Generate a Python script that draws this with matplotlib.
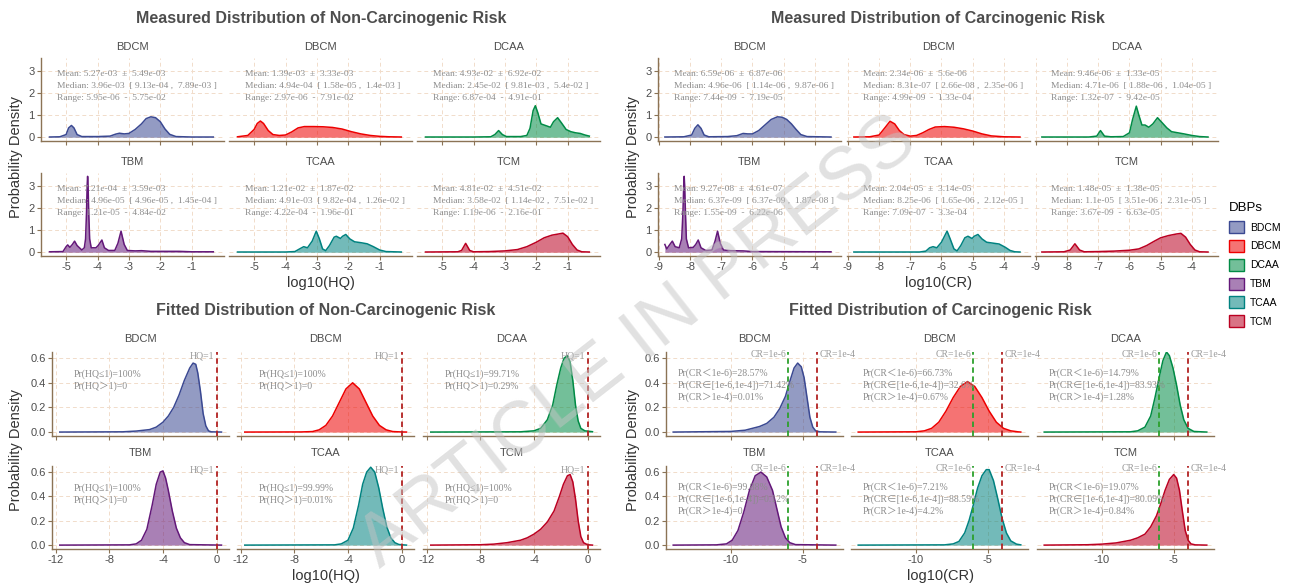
import matplotlib.pyplot as plt
from matplotlib.colors import to_rgba
from matplotlib.patches import Patch

plt.rcParams['font.family'] = ['Liberation Sans', 'DejaVu Sans']

W, H = 1296, 586
DBPS = ["BDCM", "DBCM", "DCAA", "TBM", "TCAA", "TCM"]
COLORS = ["#3B4992", "#EE0000", "#008B45", "#631879", "#008280", "#BB0021"]

AXIS_C = '#8B7355'
GRID_C = '#F1DCCA'
TEXT_C = '#4D4D4D'
NOTE_C = '#8C8C8C'
SERIF = ['Liberation Serif', 'Noto Sans CJK SC', 'DejaVu Serif']

# ---- measured densities, log10(HQ) ----
meas_hq_x = {
    "BDCM": [-5.53, -5.2, -5.0, -4.92, -4.83, -4.75, -4.65, -4.5, -4.0, -3.6, -3.42, -3.3, -3.15, -3.0,
             -2.8, -2.6, -2.45, -2.3, -2.15, -2.0, -1.85, -1.7, -1.5, -1.0, -0.31],
    "DBCM": [-5.53, -5.2, -5.0, -4.9, -4.8, -4.7, -4.55, -4.4, -4.2, -4.0, -3.8, -3.6, -3.4, -3.1,
             -2.8, -2.5, -2.2, -1.9, -1.6, -1.3, -1.0, -0.7, -0.31],
    "DCAA": [-5.53, -4.0, -3.45, -3.32, -3.2, -3.08, -2.95, -2.5, -2.3, -2.2, -2.1, -2.03, -1.95, -1.85,
             -1.75, -1.65, -1.55, -1.45, -1.32, -1.2, -1.05, -0.9, -0.75, -0.6, -0.45, -0.31],
    "TBM": [-5.53, -5.1, -5.0, -4.95, -4.88, -4.8, -4.73, -4.65, -4.5, -4.42, -4.38, -4.35, -4.33, -4.315,
            -4.3, -4.28, -4.25, -4.2, -4.05, -3.98, -3.86, -3.78, -3.65, -3.45, -3.35, -3.25, -3.15, -3.05,
            -2.8, -2.6, -2.3, -1.4, -1.0, -0.31],
    "TCAA": [-5.53, -4.0, -3.7, -3.55, -3.42, -3.3, -3.15, -3.02, -2.92, -2.82, -2.72, -2.6, -2.45, -2.38,
             -2.25, -2.18, -2.08, -1.95, -1.8, -1.6, -1.4, -1.2, -1.0, -0.8, -0.31],
    "TCM": [-5.53, -4.5, -4.38, -4.25, -4.12, -4.0, -3.5, -3.0, -2.6, -2.3, -2.0, -1.75, -1.5, -1.3,
            -1.15, -1.0, -0.85, -0.7, -0.55, -0.31],
}
meas_hq_y = {
    "BDCM": [0.01, 0.02, 0.12, 0.42, 0.53, 0.42, 0.12, 0.03, 0.03, 0.05, 0.14, 0.18, 0.15, 0.17,
             0.35, 0.6, 0.84, 0.92, 0.88, 0.7, 0.37, 0.13, 0.03, 0.01, 0.01],
    "DBCM": [0.02, 0.08, 0.35, 0.62, 0.73, 0.62, 0.3, 0.12, 0.08, 0.1, 0.24, 0.42, 0.48, 0.48,
             0.47, 0.44, 0.37, 0.25, 0.15, 0.08, 0.04, 0.02, 0.01],
    "DCAA": [0.01, 0.01, 0.02, 0.12, 0.3, 0.12, 0.03, 0.03, 0.08, 0.4, 1.2, 1.42, 1.1, 0.6,
             0.55, 0.5, 0.45, 0.7, 0.88, 0.65, 0.35, 0.25, 0.2, 0.17, 0.1, 0.05],
    "TBM": [0.02, 0.03, 0.25, 0.33, 0.22, 0.35, 0.5, 0.3, 0.1, 0.2, 0.6, 1.8, 3.0, 3.42,
            3.0, 1.8, 0.6, 0.2, 0.2, 0.3, 0.55, 0.2, 0.08, 0.08, 0.4, 0.95, 0.35, 0.08,
            0.06, 0.07, 0.04, 0.04, 0.02, 0.02],
    "TCAA": [0.01, 0.01, 0.03, 0.15, 0.25, 0.2, 0.5, 0.95, 0.6, 0.15, 0.07, 0.3, 0.68, 0.72,
             0.62, 0.72, 0.8, 0.6, 0.47, 0.43, 0.38, 0.25, 0.1, 0.03, 0.01],
    "TCM": [0.01, 0.02, 0.08, 0.4, 0.08, 0.02, 0.03, 0.06, 0.12, 0.25, 0.45, 0.65, 0.77, 0.82,
            0.86, 0.7, 0.35, 0.1, 0.02, 0.01],
}

# ---- measured densities, log10(CR) ----
meas_cr_x = {
    "BDCM": [-8.81, -8.2, -7.95, -7.85, -7.75, -7.65, -7.55, -7.4, -6.8, -6.5, -6.3, -6.15, -6.0, -5.8,
             -5.6, -5.4, -5.2, -5.05, -4.9, -4.75, -4.6, -4.45, -4.25, -3.48],
    "DBCM": [-8.81, -8.3, -8.0, -7.8, -7.65, -7.5, -7.35, -7.2, -7.0, -6.8, -6.6, -6.4, -6.2, -5.9,
             -5.6, -5.3, -5.0, -4.7, -4.4, -4.0, -3.48],
    "DCAA": [-8.81, -7.3, -7.05, -6.93, -6.8, -6.6, -6.2, -6.0, -5.9, -5.78, -5.7, -5.6, -5.5, -5.38,
             -5.25, -5.1, -4.95, -4.8, -4.65, -4.45, -4.25, -4.0, -3.75, -3.48],
    "TBM": [-8.81, -8.75, -8.65, -8.57, -8.48, -8.35, -8.27, -8.23, -8.205, -8.19, -8.175, -8.15, -8.12,
            -8.05, -7.9, -7.82, -7.74, -7.65, -7.5, -7.3, -7.2, -7.12, -7.03, -6.93, -6.7, -6.3, -6.0, -3.48],
    "TCAA": [-8.81, -6.7, -6.5, -6.38, -6.27, -6.15, -6.0, -5.82, -5.72, -5.6, -5.5, -5.38, -5.25, -5.15,
             -5.02, -4.95, -4.83, -4.7, -4.55, -4.35, -4.15, -3.95, -3.8, -3.65, -3.48],
    "TCM": [-8.81, -8.1, -7.9, -7.75, -7.6, -7.45, -7.0, -6.5, -6.0, -5.7, -5.45, -5.2, -5.0, -4.75,
            -4.5, -4.35, -4.2, -4.05, -3.9, -3.75, -3.48],
}
meas_cr_y = {
    "BDCM": [0.01, 0.02, 0.1, 0.4, 0.56, 0.4, 0.1, 0.02, 0.03, 0.07, 0.17, 0.15, 0.15, 0.3,
             0.55, 0.8, 0.92, 0.9, 0.8, 0.6, 0.35, 0.12, 0.03, 0.01],
    "DBCM": [0.01, 0.02, 0.1, 0.45, 0.72, 0.6, 0.3, 0.12, 0.05, 0.08, 0.2, 0.35, 0.46, 0.48,
             0.45, 0.38, 0.28, 0.15, 0.06, 0.02, 0.01],
    "DCAA": [0.01, 0.01, 0.05, 0.3, 0.05, 0.02, 0.03, 0.2, 0.8, 1.4, 1.0, 0.55, 0.55, 0.45,
             0.6, 0.88, 0.65, 0.42, 0.25, 0.2, 0.15, 0.08, 0.03, 0.01],
    "TBM": [0.35, 0.15, 0.35, 0.5, 0.25, 0.2, 0.6, 1.8, 3.0, 3.42, 3.0, 1.8, 0.6,
            0.2, 0.22, 0.35, 0.55, 0.2, 0.08, 0.1, 0.5, 0.95, 0.4, 0.1, 0.07, 0.06, 0.03, 0.02],
    "TCAA": [0.01, 0.01, 0.05, 0.2, 0.25, 0.2, 0.45, 0.95, 0.6, 0.15, 0.06, 0.3, 0.65, 0.72,
             0.62, 0.72, 0.8, 0.6, 0.45, 0.41, 0.37, 0.22, 0.08, 0.02, 0.01],
    "TCM": [0.01, 0.02, 0.1, 0.38, 0.1, 0.02, 0.03, 0.05, 0.09, 0.15, 0.3, 0.5, 0.65, 0.75,
            0.82, 0.85, 0.68, 0.35, 0.1, 0.02, 0.01],
}

# ---- fitted densities, log10(HQ) ----
fit_hq_x = {
    "BDCM": [-11.7, -7.0, -6.0, -5.0, -4.5, -4.0, -3.6, -3.2, -2.8, -2.4, -2.0, -1.75, -1.55, -1.4,
             -1.2, -1.0, -0.8, -0.6, -0.4, 0.37],
    "DBCM": [-11.7, -7.5, -6.65, -6.15, -5.65, -5.15, -4.65, -4.15, -3.65, -3.15, -2.65, -2.15, -1.65,
             -1.15, -0.65, 0.0, 0.37],
    "DCAA": [-11.7, -5.0, -4.0, -3.5, -3.0, -2.6, -2.3, -2.0, -1.75, -1.5, -1.3, -1.1, -0.9, -0.7,
             -0.5, -0.2, 0.37],
    "TBM": [-11.7, -6.5, -6.0, -5.6, -5.2, -4.8, -4.5, -4.2, -4.0, -3.8, -3.6, -3.3, -3.0, -2.7,
            -2.4, -2.0, 0.37],
    "TCAA": [-11.7, -5.0, -4.5, -4.0, -3.6, -3.2, -2.9, -2.6, -2.3, -2.0, -1.7, -1.4, -1.1, -0.8,
             -0.5, -0.2, 0.37],
    "TCM": [-11.7, -8.0, -7.0, -6.0, -5.0, -4.5, -4.0, -3.5, -3.0, -2.5, -2.1, -1.8, -1.5, -1.3,
            -1.1, -0.9, -0.7, -0.5, -0.3, 0.0, 0.37],
}
fit_hq_y = {
    "BDCM": [0.0, 0.002, 0.008, 0.02, 0.04, 0.08, 0.13, 0.2, 0.3, 0.42, 0.52, 0.56, 0.55, 0.48,
             0.33, 0.15, 0.05, 0.01, 0.002, 0.0],
    "DBCM": [0.0, 0.001, 0.004, 0.018, 0.054, 0.13, 0.24, 0.35, 0.4, 0.35, 0.24, 0.13, 0.054,
             0.018, 0.004, 0.001, 0.0],
    "DCAA": [0.0, 0.002, 0.01, 0.03, 0.1, 0.22, 0.38, 0.52, 0.6, 0.62, 0.57, 0.42, 0.22, 0.09,
             0.03, 0.01, 0.003],
    "TBM": [0.0, 0.002, 0.01, 0.04, 0.13, 0.33, 0.5, 0.6, 0.61, 0.55, 0.45, 0.28, 0.14, 0.06,
            0.02, 0.004, 0.0],
    "TCAA": [0.0, 0.002, 0.01, 0.04, 0.14, 0.33, 0.5, 0.6, 0.64, 0.6, 0.47, 0.3, 0.15, 0.06,
             0.02, 0.005, 0.0],
    "TCM": [0.0, 0.003, 0.008, 0.02, 0.04, 0.06, 0.09, 0.13, 0.19, 0.28, 0.4, 0.5, 0.57, 0.58,
            0.52, 0.38, 0.2, 0.07, 0.02, 0.003, 0.0],
}

# ---- fitted densities, log10(CR) ----
fit_cr_x = {
    "BDCM": [-14.0, -10.0, -9.0, -8.5, -8.0, -7.5, -7.0, -6.6, -6.2, -5.9, -5.6, -5.35, -5.1, -4.9,
             -4.7, -4.5, -4.3, -4.1, -3.8, -2.7],
    "DBCM": [-14.0, -10.0, -9.4, -8.9, -8.4, -7.9, -7.4, -6.9, -6.4, -5.9, -5.4, -4.9, -4.4, -3.9,
             -3.4, -2.9, -2.7],
    "DCAA": [-14.0, -8.0, -7.5, -7.0, -6.6, -6.3, -6.0, -5.75, -5.5, -5.3, -5.05, -4.8, -4.55, -4.3,
             -4.0, -3.6, -2.7],
    "TBM": [-14.0, -11.0, -10.3, -9.9, -9.5, -9.1, -8.7, -8.3, -7.9, -7.5, -7.1, -6.8, -6.5, -6.2,
            -5.9, -5.5, -2.7],
    "TCAA": [-14.0, -8.0, -7.4, -7.0, -6.6, -6.3, -6.0, -5.7, -5.4, -5.1, -4.9, -4.6, -4.3, -4.0,
             -3.7, -3.4, -3.0, -2.7],
    "TCM": [-14.0, -11.0, -10.0, -9.0, -8.0, -7.5, -7.0, -6.6, -6.2, -5.9, -5.6, -5.3, -5.0, -4.8,
            -4.6, -4.4, -4.2, -4.0, -3.8, -3.5, -2.7],
}
fit_cr_y = {
    "BDCM": [0.0, 0.005, 0.015, 0.03, 0.045, 0.07, 0.12, 0.19, 0.29, 0.41, 0.52, 0.56, 0.53, 0.44,
             0.28, 0.12, 0.04, 0.01, 0.002, 0.0],
    "DBCM": [0.0, 0.002, 0.01, 0.03, 0.08, 0.17, 0.28, 0.37, 0.41, 0.37, 0.28, 0.17, 0.08, 0.03,
             0.01, 0.002, 0.0],
    "DCAA": [0.0, 0.002, 0.01, 0.04, 0.13, 0.28, 0.45, 0.58, 0.65, 0.62, 0.52, 0.38, 0.22, 0.1,
             0.03, 0.005, 0.0],
    "TBM": [0.0, 0.002, 0.01, 0.04, 0.12, 0.27, 0.45, 0.57, 0.6, 0.56, 0.45, 0.3, 0.15, 0.06,
            0.02, 0.004, 0.0],
    "TCAA": [0.0, 0.002, 0.01, 0.03, 0.1, 0.2, 0.33, 0.47, 0.57, 0.62, 0.62, 0.53, 0.38, 0.22,
             0.1, 0.035, 0.008, 0.002],
    "TCM": [0.0, 0.003, 0.008, 0.018, 0.04, 0.06, 0.09, 0.15, 0.24, 0.34, 0.45, 0.54, 0.58, 0.55,
            0.45, 0.28, 0.12, 0.04, 0.01, 0.002, 0.0],
}

# ---- summary statistics: mean, sd, median, q1, q3, min, max ----
hq_stats = {
    "BDCM": ["5.27e-03", "5.49e-03", "3.96e-03", "9.13e-04", "7.89e-03", "5.95e-06", "5.75e-02"],
    "DBCM": ["1.39e-03", "3.33e-03", "4.94e-04", "1.58e-05", "1.4e-03", "2.97e-06", "7.91e-02"],
    "DCAA": ["4.93e-02", "6.92e-02", "2.45e-02", "9.81e-03", "5.4e-02", "6.87e-04", "4.91e-01"],
    "TBM": ["7.21e-04", "3.59e-03", "4.96e-05", "4.96e-05", "1.45e-04", "1.21e-05", "4.84e-02"],
    "TCAA": ["1.21e-02", "1.87e-02", "4.91e-03", "9.82e-04", "1.26e-02", "4.22e-04", "1.96e-01"],
    "TCM": ["4.81e-02", "4.51e-02", "3.58e-02", "1.14e-02", "7.51e-02", "1.19e-06", "2.16e-01"],
}
cr_stats = {
    "BDCM": ["6.59e-06", "6.87e-06", "4.96e-06", "1.14e-06", "9.87e-06", "7.44e-09", "7.19e-05"],
    "DBCM": ["2.34e-06", "5.6e-06", "8.31e-07", "2.66e-08", "2.35e-06", "4.99e-09", "1.33e-04"],
    "DCAA": ["9.46e-06", "1.33e-05", "4.71e-06", "1.88e-06", "1.04e-05", "1.32e-07", "9.42e-05"],
    "TBM": ["9.27e-08", "4.61e-07", "6.37e-09", "6.37e-09", "1.87e-08", "1.55e-09", "6.22e-06"],
    "TCAA": ["2.04e-05", "3.14e-05", "8.25e-06", "1.65e-06", "2.12e-05", "7.09e-07", "3.3e-04"],
    "TCM": ["1.48e-05", "1.38e-05", "1.1e-05", "3.51e-06", "2.31e-05", "3.67e-09", "6.63e-05"],
}
# exceedance probabilities of the fitted distributions
hq_prob = {
    "BDCM": ["100%", "0"], "DBCM": ["100%", "0"], "DCAA": ["99.71%", "0.29%"],
    "TBM": ["100%", "0"], "TCAA": ["99.99%", "0.01%"], "TCM": ["100%", "0"],
}
cr_prob = {
    "BDCM": ["28.57%", "71.42%", "0.01%"], "DBCM": ["66.73%", "32.6%", "0.67%"],
    "DCAA": ["14.79%", "83.93%", "1.28%"], "TBM": ["99.88%", "0.12%", "0"],
    "TCAA": ["7.21%", "88.59%", "4.2%"], "TCM": ["19.07%", "80.09%", "0.84%"],
}

fig = plt.figure(figsize=(W / 100, H / 100), dpi=100)


def px_rect(x0, y0, x1, y1):
    return [x0 / W, 1 - y1 / H, (x1 - x0) / W, (y1 - y0) / H]


def ftext(x, y, s, **kw):
    fig.text(x / W, 1 - y / H, s, **kw)


def style_axes(ax, xlim, ylim, xticks, yticks, ylabels, first_col, last_row):
    ax.set_xlim(*xlim)
    ax.set_ylim(*ylim)
    ax.set_facecolor('none')
    for t in xticks:
        ax.axvline(t, color=GRID_C, lw=0.7, ls=(0, (4, 3)), zorder=0)
    for t in yticks:
        ax.axhline(t, color=GRID_C, lw=0.7, ls=(0, (4, 3)), zorder=0)
    ax.set_xticks(xticks)
    ax.set_xticklabels([str(t) for t in xticks])
    ax.set_yticks(yticks)
    ax.set_yticklabels(ylabels)
    ax.spines['top'].set_visible(False)
    ax.spines['right'].set_visible(False)
    ax.spines['left'].set_visible(first_col)
    for s in ['left', 'bottom']:
        ax.spines[s].set_color(AXIS_C)
        ax.spines[s].set_linewidth(1.0)
    ax.tick_params(colors=AXIS_C, labelcolor=TEXT_C, labelsize=8, length=3, width=0.8, pad=1.5)
    if not first_col:
        ax.tick_params(axis='y', left=False, labelleft=False)
    if not last_row:
        ax.tick_params(axis='x', labelbottom=False)


def draw_block(cols, rows, xs, ys, xlim, ylim, xticks, yticks, ylabels, facet_dy, notes):
    for i, name in enumerate(DBPS):
        r, c = divmod(i, 3)
        x0, x1 = cols[c]
        y0, y1 = rows[r]
        ax = fig.add_axes(px_rect(x0, y0, x1, y1))
        style_axes(ax, xlim, ylim, xticks, yticks, ylabels, c == 0, r == 1)
        col = COLORS[i]
        ax.fill_between(xs[name], ys[name], 0, color=col, alpha=0.55, lw=0, zorder=2)
        ax.plot(xs[name], ys[name], color=col, lw=1.1, zorder=3)
        ftext((x0 + x1) / 2, y0 - facet_dy, name, ha='center', va='center',
              fontsize=8, color=TEXT_C)
        notes(ax, name)


def measured_notes(stats):
    def f(ax, name):
        m, s, md, q1, q3, lo, hi = stats[name]
        lines = [f"Mean: {m}  \u00b1  {s}",
                 f"Median: {md}  [ {q1} ,  {q3} ]",
                 f"Range: {lo}  -  {hi}"]
        tr = ax.get_yaxis_transform()
        for line, yv in zip(lines, [2.85, 2.3, 1.75]):
            ax.text(0.085, yv, line, transform=tr, ha='left', va='center',
                    fontsize=6.8, color=NOTE_C, family=SERIF, zorder=5)
    return f


def hq_fit_notes(ax, name):
    p_le, p_gt = hq_prob[name]
    tr = ax.get_yaxis_transform()
    ax.text(0.12, 0.47, f"Pr(HQ\u22641)={p_le}", transform=tr, ha='left', va='center',
            fontsize=7, color=NOTE_C, family=SERIF, zorder=5)
    ax.text(0.12, 0.37, f"Pr(HQ\uff1e1)={p_gt}", transform=tr, ha='left', va='center',
            fontsize=7, color=NOTE_C, family=SERIF, zorder=5)
    ax.axvline(0, color='#B22222', lw=1.3, ls=(0, (3, 2)), zorder=4)
    ax.text(-0.15, 0.62, "HQ=1", ha='right', va='center', fontsize=7,
            color='#9A9A9A', family=SERIF, zorder=5)


def cr_fit_notes(ax, name):
    p_lo, p_mid, p_hi = cr_prob[name]
    tr = ax.get_yaxis_transform()
    lines = [f"Pr(CR\uff1c1e-6)={p_lo}",
             f"Pr(CR\u2208[1e-6,1e-4])={p_mid}",
             f"Pr(CR\uff1e1e-4)={p_hi}"]
    for line, yv in zip(lines, [0.48, 0.38, 0.28]):
        ax.text(0.065, yv, line, transform=tr, ha='left', va='center',
                fontsize=7, color=NOTE_C, family=SERIF, zorder=5)
    ax.axvline(-6, color='#2CA02C', lw=1.3, ls=(0, (3, 2)), zorder=4)
    ax.axvline(-4, color='#B22222', lw=1.3, ls=(0, (3, 2)), zorder=4)
    ax.text(-6.15, 0.63, "CR=1e-6", ha='right', va='center', fontsize=7,
            color='#9A9A9A', family=SERIF, zorder=5)
    ax.text(-3.8, 0.63, "CR=1e-4", ha='left', va='center', fontsize=7,
            color='#9A9A9A', family=SERIF, zorder=5, clip_on=False)


top_rows = [(58, 141), (173, 256)]
bot_rows = [(352, 436), (466, 549)]
top_ylab = ["0", "1", "2", "3"]
bot_ylab = ["0.0", "0.2", "0.4", "0.6"]

draw_block([(41, 224), (229, 412), (417, 600)], top_rows, meas_hq_x, meas_hq_y,
           (-5.8, 0.03), (-0.17, 3.57), [-5, -4, -3, -2, -1], [0, 1, 2, 3], top_ylab, 11,
           measured_notes(hq_stats))
draw_block([(658, 841), (847, 1030), (1035, 1218)], top_rows, meas_cr_x, meas_cr_y,
           (-9.03, -3.16), (-0.17, 3.57), [-9, -8, -7, -6, -5, -4], [0, 1, 2, 3], top_ylab, 11,
           measured_notes(cr_stats))
draw_block([(52, 229), (237, 414), (423, 600)], bot_rows, fit_hq_x, fit_hq_y,
           (-12.28, 0.93), (-0.032, 0.65), [-12, -8, -4, 0], [0, 0.2, 0.4, 0.6], bot_ylab, 13,
           hq_fit_notes)
draw_block([(666, 843), (851, 1028), (1037, 1214)], bot_rows, fit_cr_x, fit_cr_y,
           (-14.5, -2.2), (-0.032, 0.65), [-10, -5], [0, 0.2, 0.4, 0.6], bot_ylab, 13,
           cr_fit_notes)

# block titles
title_kw = dict(ha='center', va='center', fontsize=11.5, fontweight='bold', color=TEXT_C)
ftext(321, 18, "Measured Distribution of Non-Carcinogenic Risk", **title_kw)
ftext(938, 18, "Measured Distribution of Carcinogenic Risk", **title_kw)
ftext(326, 311, "Fitted Distribution of Non-Carcinogenic Risk", **title_kw)
ftext(940, 311, "Fitted Distribution of Carcinogenic Risk", **title_kw)

# axis titles
lab_kw = dict(ha='center', va='center', fontsize=10.5, color='#333333')
ftext(321, 283, "log10(HQ)", **lab_kw)
ftext(938, 283, "log10(CR)", **lab_kw)
ftext(326, 576, "log10(HQ)", **lab_kw)
ftext(940, 576, "log10(CR)", **lab_kw)
for px, py in [(16, 157), (633, 157), (16, 450), (633, 450)]:
    ftext(px, py, "Probability Density", rotation=90, **lab_kw)

# legend
handles = [Patch(facecolor=to_rgba(c, 0.55), edgecolor=c, linewidth=1.0) for c in COLORS]
fig.legend(handles, DBPS, title="DBPs", loc='upper left', bbox_to_anchor=(1220 / W, 1 - 193 / H),
           frameon=False, fontsize=7.5, title_fontsize=9.5, handlelength=1.4, handleheight=1.4,
           labelspacing=0.65, handletextpad=0.6, alignment='left')

# watermark
ftext(638, 342, "ARTICLE IN PRESS", rotation=38, fontsize=54, color='#C4C4C4', alpha=0.5,
      ha='center', va='center', zorder=100)

fig.savefig("out.png", dpi=100, facecolor='white')
